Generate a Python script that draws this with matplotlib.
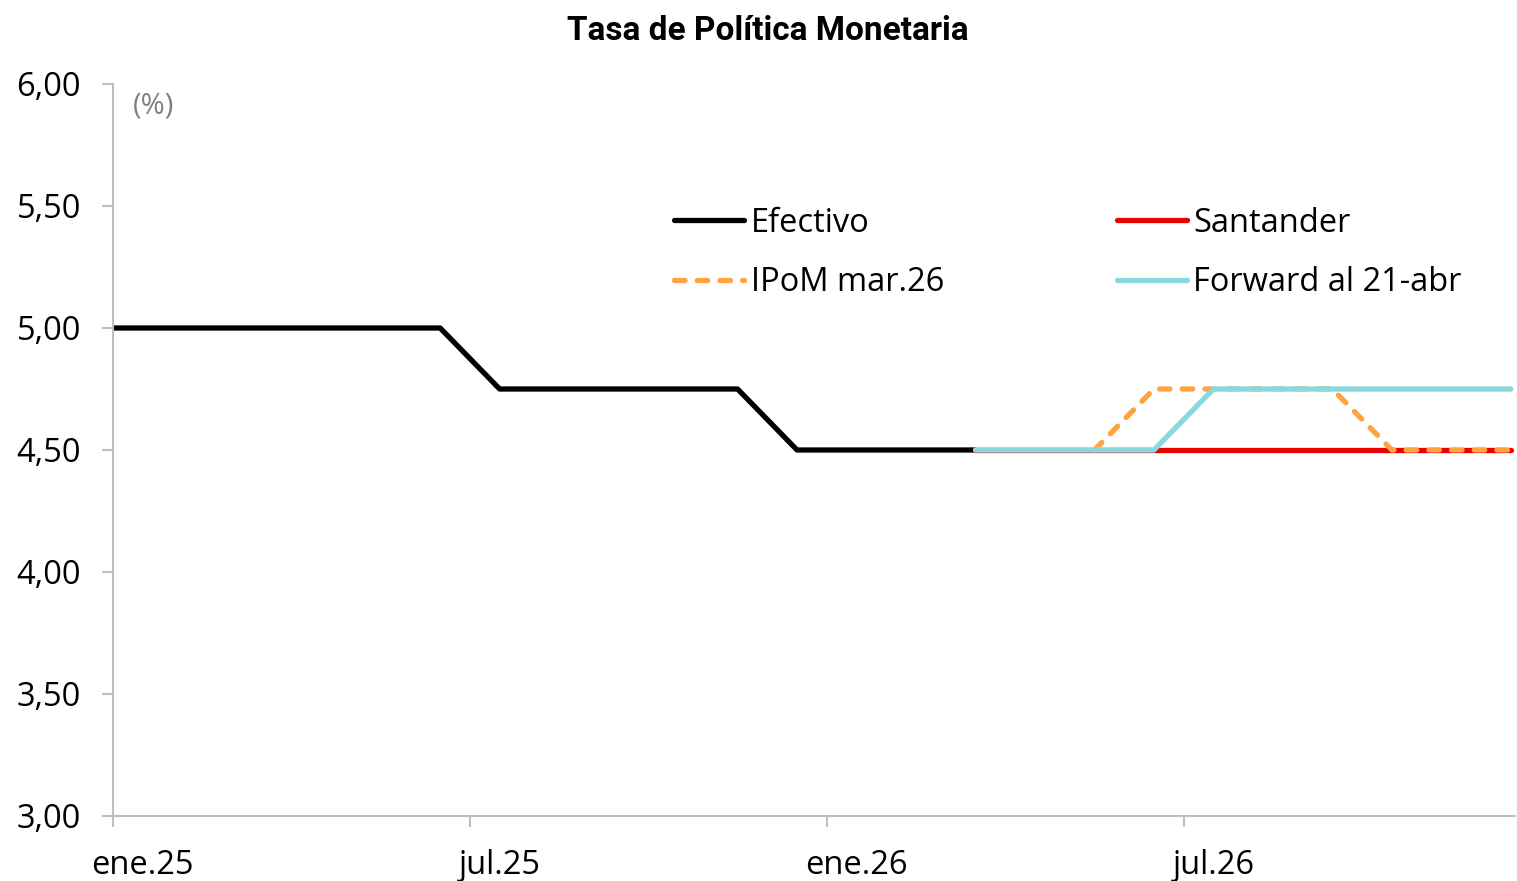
import numpy as np
import matplotlib
matplotlib.use("Agg")
import matplotlib.pyplot as plt

plt.rcParams['font.family'] = ['Open Sans', 'DejaVu Sans']

# meses (dic.24 solo sirve para que la serie arranque en el borde del eje)
meses = ['dic.24',
         'ene.25', 'feb.25', 'mar.25', 'abr.25', 'may.25', 'jun.25',
         'jul.25', 'ago.25', 'sep.25', 'oct.25', 'nov.25', 'dic.25',
         'ene.26', 'feb.26', 'mar.26', 'abr.26', 'may.26', 'jun.26',
         'jul.26', 'ago.26', 'sep.26', 'oct.26', 'nov.26', 'dic.26']

nan = np.nan
efectivo = [5.00,
            5.00, 5.00, 5.00, 5.00, 5.00, 5.00,
            4.75, 4.75, 4.75, 4.75, 4.75, 4.50,
            4.50, 4.50, 4.50, nan, nan, nan,
            nan, nan, nan, nan, nan, nan]
santander = [nan,
             nan, nan, nan, nan, nan, nan,
             nan, nan, nan, nan, nan, nan,
             nan, nan, 4.50, 4.50, 4.50, 4.50,
             4.50, 4.50, 4.50, 4.50, 4.50, 4.50]
ipom = [nan,
        nan, nan, nan, nan, nan, nan,
        nan, nan, nan, nan, nan, nan,
        nan, nan, nan, nan, 4.50, 4.75,
        4.75, 4.75, 4.75, 4.50, 4.50, 4.50]
forward = [nan,
           nan, nan, nan, nan, nan, nan,
           nan, nan, nan, nan, nan, nan,
           nan, nan, 4.50, 4.50, 4.50, 4.50,
           4.75, 4.75, 4.75, 4.75, 4.75, 4.75]

x = np.arange(len(meses)) - 0.5  # centro de cada mes; ene.25 empieza en 0

gris = '#BFBFBF'
lw = 3.8
fs = 23.5

fig = plt.figure(figsize=(15.17, 8.81), dpi=100)
ax = fig.add_axes([113 / 1517, 1 - 816 / 881, (1515 - 113) / 1517, (816 - 84) / 881])

l1, = ax.plot(x, efectivo, color='black', lw=lw, solid_capstyle='round',
              solid_joinstyle='round', label='Efectivo')
l3, = ax.plot(x, santander, color='#EC0000', lw=lw, solid_capstyle='round',
              solid_joinstyle='round', label='Santander')
l2, = ax.plot(x, ipom, color='#FFA23F', lw=lw, dashes=(2, 2.3),
              dash_capstyle='round', dash_joinstyle='round', label='IPoM mar.26')
l4, = ax.plot(x, forward, color='#8AD8DC', lw=lw, solid_capstyle='round',
              solid_joinstyle='round', label='Forward al 21-abr')

ax.set_xlim(0, 23.57)
ax.set_ylim(3.0, 6.0)

ax.set_yticks(np.arange(3.0, 6.01, 0.5))
ax.set_yticklabels([f'{v:.2f}'.replace('.', ',') for v in np.arange(3.0, 6.01, 0.5)])

# marcas en los límites de mes, etiquetas en el centro
ax.set_xticks([0, 6, 12, 18])
ax.set_xticklabels([])
ax.set_xticks([0.5, 6.5, 12.5, 18.5], minor=True)
ax.set_xticklabels([meses[1], meses[7], meses[13], meses[19]], minor=True)

ax.tick_params(axis='y', length=8, width=1.5, color=gris, pad=15, labelsize=fs)
ax.tick_params(axis='x', which='major', length=8, width=1.5, color=gris)
ax.tick_params(axis='x', which='minor', length=0, pad=24, labelsize=fs)

for s in ['top', 'right']:
    ax.spines[s].set_visible(False)
for s in ['left', 'bottom']:
    ax.spines[s].set_color(gris)
    ax.spines[s].set_linewidth(1.5)

ax.text(0.33, 5.91, '(%)', color='#808080', fontsize=21, va='center', ha='left')

fig.text(768 / 1517, 1 - 31 / 881, 'Tasa de Política Monetaria', fontsize=24,
         fontweight='bold', ha='center', va='center', family=['Roboto', 'DejaVu Sans'])

ax.legend(handles=[l1, l2, l3, l4], ncol=2, frameon=False, fontsize=fs,
          handlelength=2.15, handletextpad=0.2, columnspacing=5.28,
          labelspacing=0.81, loc='upper left', bbox_to_anchor=(0.391, 0.85),
          borderaxespad=0)

fig.savefig('out.png', dpi=100)
